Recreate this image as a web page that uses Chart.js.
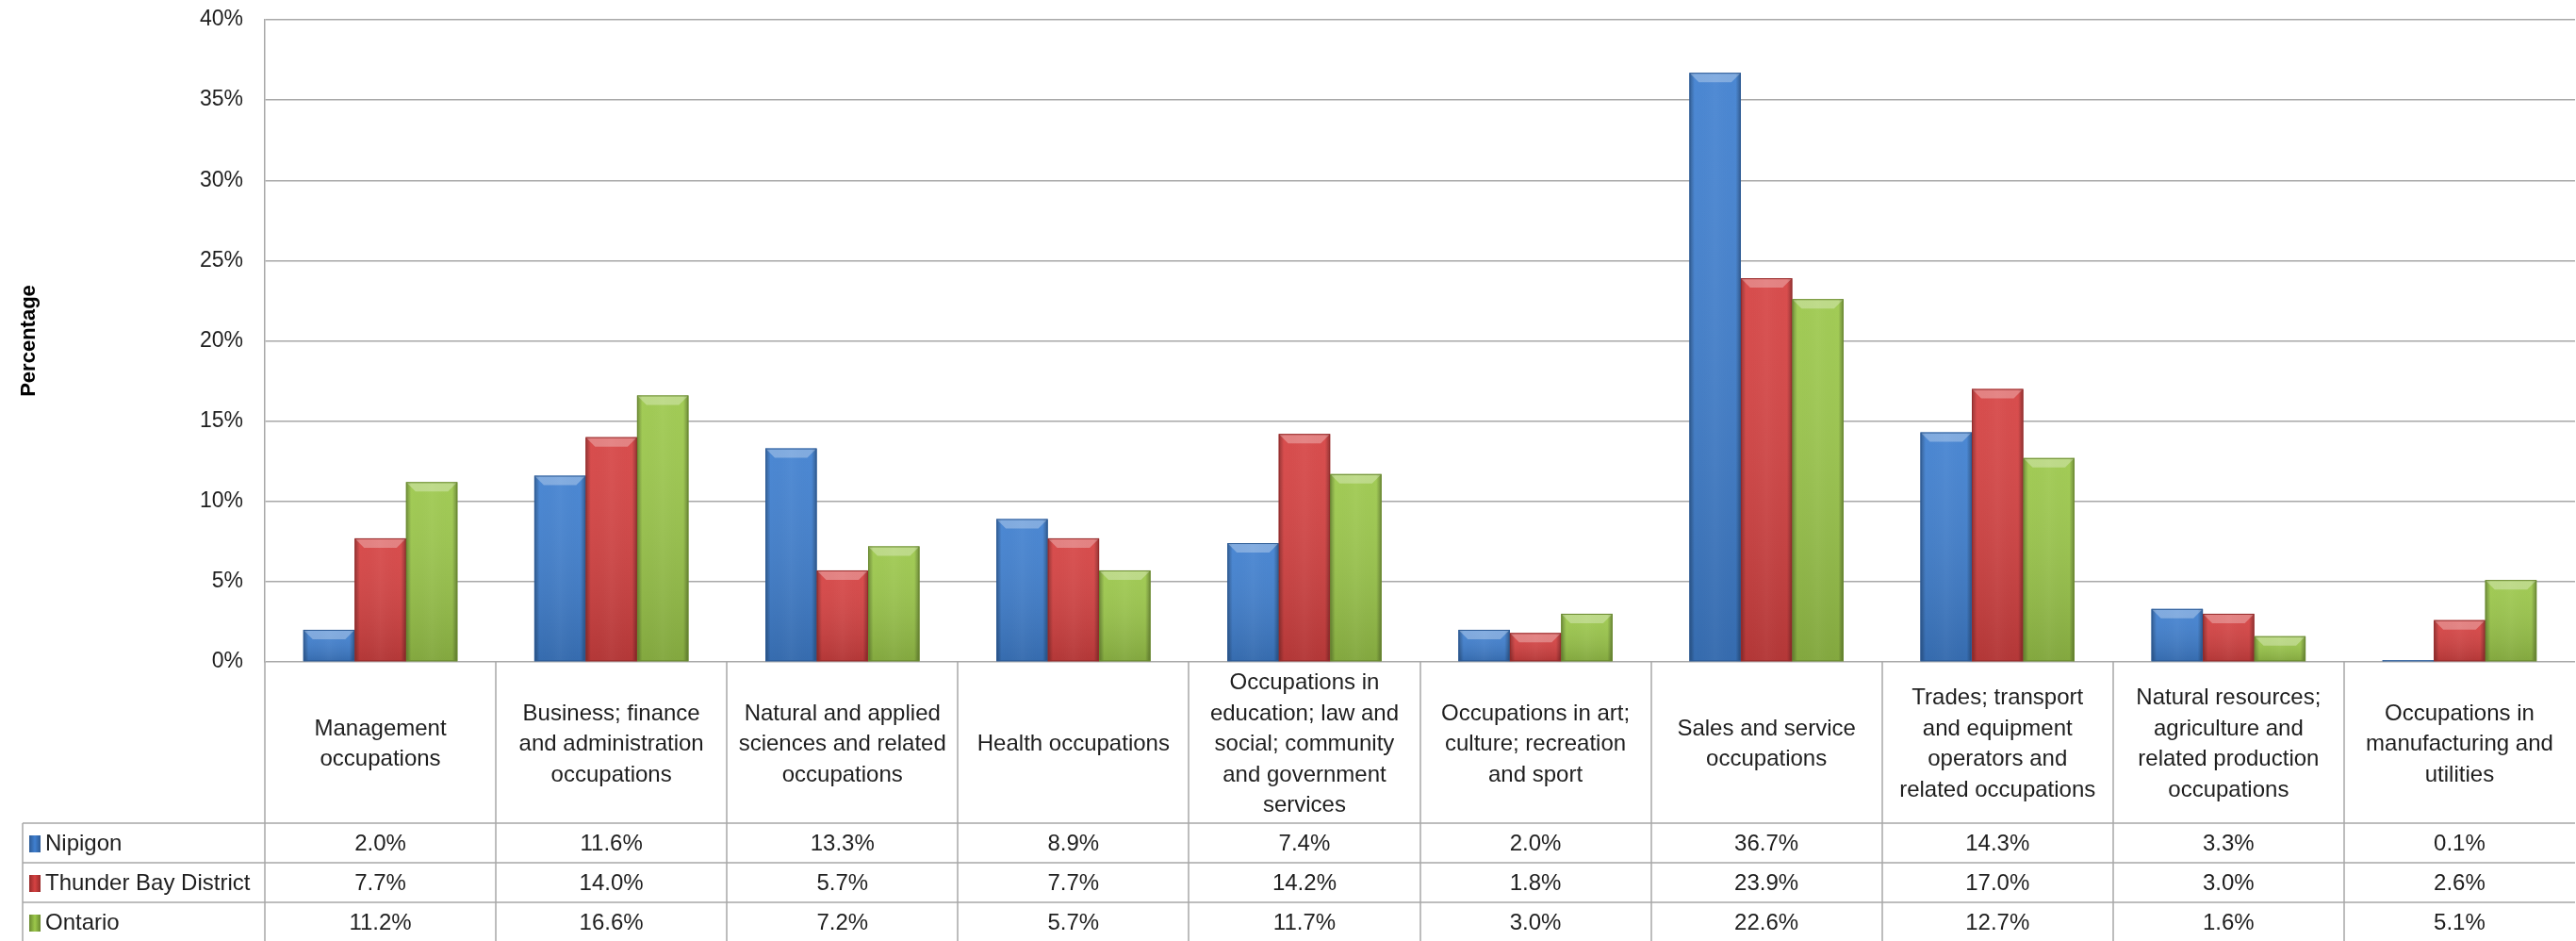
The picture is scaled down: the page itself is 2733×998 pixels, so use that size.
<!DOCTYPE html>
<html lang="en">
<head>
  <meta charset="UTF-8">
  <title>Occupations - Nipigon, Thunder Bay District, Ontario</title>
  <script src="https://cdn.jsdelivr.net/npm/chart.js"></script>
  <style>
    html, body { margin: 0; padding: 0; background: #ffffff; }
    #wrap { width: 2733px; height: 998px; }
  </style>
</head>
<body>
  <div id="wrap"><canvas id="occChart" width="2733" height="998"></canvas></div>
  <script>
    // chart data
    const categories = [
      ['Management', 'occupations'],
      ['Business; finance', 'and administration', 'occupations'],
      ['Natural and applied', 'sciences and related', 'occupations'],
      ['Health occupations'],
      ['Occupations in', 'education; law and', 'social; community', 'and government', 'services'],
      ['Occupations in art;', 'culture; recreation', 'and sport'],
      ['Sales and service', 'occupations'],
      ['Trades; transport', 'and equipment', 'operators and', 'related occupations'],
      ['Natural resources;', 'agriculture and', 'related production', 'occupations'],
      ['Occupations in', 'manufacturing and', 'utilities']
    ];
    const seriesNames = ['Nipigon', 'Thunder Bay District', 'Ontario'];
    const nipigon    = [2.0, 11.6, 13.3, 8.9, 7.4, 2.0, 36.7, 14.3, 3.3, 0.1];
    const thunderBay = [7.7, 14.0, 5.7, 7.7, 14.2, 1.8, 23.9, 17.0, 3.0, 2.6];
    const ontario    = [11.2, 16.6, 7.2, 5.7, 11.7, 3.0, 22.6, 12.7, 1.6, 5.1];
    const yMin = 0, yMax = 40, yStep = 5;
    const yTitle = 'Percentage';

    const FONT = "'Liberation Sans', Arial, sans-serif";
    const GRID = '#a8a8a8';
    const TEXT = '#1e1e1e';
    const fills = ['#4080d0', '#d64242', '#9cc84b'];
    const edges = ['#2d5b96', '#962b2b', '#6a8a30'];

    Chart.defaults.font.family = FONT;

    // bevel look on each bar, drawn over the elements the library laid out
    const bevelPlugin = {
      id: 'bevel',
      afterDatasetsDraw(chart) {
        const ctx = chart.ctx;
        ctx.save();
        chart.data.datasets.forEach((ds, di) => {
          chart.getDatasetMeta(di).data.forEach(el => {
            const w = el.width, l = el.x - w / 2, r = el.x + w / 2;
            const top = el.y, bot = el.base, h = bot - top;
            if (h <= 0.5) return;
            let g = ctx.createLinearGradient(0, top, 0, bot);
            g.addColorStop(0, 'rgba(255,255,255,0.06)');
            g.addColorStop(1, 'rgba(0,0,0,0.16)');
            ctx.fillStyle = g;
            ctx.fillRect(l, top, w, h);
            g = ctx.createLinearGradient(l, 0, r, 0);
            g.addColorStop(0, 'rgba(0,0,0,0.3)');
            g.addColorStop(0.1, 'rgba(0,0,0,0)');
            g.addColorStop(0.5, 'rgba(255,255,255,0.03)');
            g.addColorStop(0.9, 'rgba(0,0,0,0)');
            g.addColorStop(1, 'rgba(0,0,0,0.32)');
            ctx.fillStyle = g;
            ctx.fillRect(l, top, w, h);
            const b = Math.min(10, h);
            ctx.beginPath();
            ctx.moveTo(l, top);
            ctx.lineTo(r, top);
            ctx.lineTo(r - b, top + b);
            ctx.lineTo(l + b, top + b);
            ctx.closePath();
            ctx.fillStyle = 'rgba(255,255,255,0.3)';
            ctx.fill();
            ctx.strokeStyle = edges[di];
            ctx.lineWidth = 1;
            ctx.strokeRect(l + 0.5, top + 0.5, w - 1, h - 1);
          });
        });
        ctx.restore();
      }
    };

    // data table under the plot
    const tablePlugin = {
      id: 'dataTable',
      afterDraw(chart) {
        const ctx = chart.ctx;
        const x = chart.scales.x;
        const area = chart.chartArea;
        const top = area.bottom;
        const labelH = 171, rowH = 42;
        const legendLeft = 24;
        const bottom = top + labelH + rowH * seriesNames.length;
        ctx.save();
        ctx.strokeStyle = GRID;
        ctx.lineWidth = 1.5;
        ctx.beginPath();
        for (let i = 0; i < categories.length; i++) {
          const px = Math.round(x.getPixelForValue(i - 0.5));
          ctx.moveTo(px, top);
          ctx.lineTo(px, bottom);
        }
        for (let r = 0; r <= seriesNames.length; r++) {
          const py = top + labelH + rowH * r;
          ctx.moveTo(legendLeft, py);
          ctx.lineTo(area.right, py);
        }
        ctx.moveTo(legendLeft, top + labelH);
        ctx.lineTo(legendLeft, bottom);
        ctx.stroke();

        ctx.fillStyle = TEXT;
        ctx.textAlign = 'center';
        ctx.textBaseline = 'middle';
        ctx.font = '24px ' + FONT;
        const lineH = 32.5;
        categories.forEach((lines, i) => {
          const cx = x.getPixelForValue(i);
          const y0 = top + labelH / 2 + 2 - (lines.length - 1) * lineH / 2;
          lines.forEach((t, k) => ctx.fillText(t, cx, y0 + k * lineH));
        });

        chart.data.datasets.forEach((ds, di) => {
          const cy = top + labelH + rowH * di + rowH / 2 + 1;
          ctx.textAlign = 'center';
          ctx.fillStyle = TEXT;
          ds.data.forEach((v, i) => {
            ctx.fillText(v.toFixed(1) + '%', x.getPixelForValue(i), cy);
          });
          const g = ctx.createLinearGradient(31, 0, 43, 0);
          g.addColorStop(0, edges[di]);
          g.addColorStop(0.5, fills[di]);
          g.addColorStop(1, edges[di]);
          ctx.fillStyle = g;
          ctx.fillRect(31, cy - 9, 12, 18);
          ctx.fillStyle = TEXT;
          ctx.textAlign = 'left';
          ctx.fillText(ds.label, 48, cy);
        });
        ctx.restore();
      }
    };

    const ctx = document.getElementById('occChart').getContext('2d');
    new Chart(ctx, {
      type: 'bar',
      data: {
        labels: categories.map(c => c.join(' ')),
        datasets: [nipigon, thunderBay, ontario].map((vals, i) => ({
          label: seriesNames[i],
          data: vals,
          backgroundColor: fills[i],
          borderWidth: 0,
          barPercentage: 1,
          categoryPercentage: 0.667
        }))
      },
      options: {
        responsive: false,
        animation: false,
        layout: { padding: { top: 21, bottom: 296, left: 0, right: 1 } },
        plugins: { legend: { display: false }, tooltip: { enabled: false } },
        scales: {
          x: { display: false },
          y: {
            min: yMin,
            max: yMax,
            afterFit(scale) { scale.width = 281; },
            ticks: {
              stepSize: yStep,
              padding: 0,
              color: TEXT,
              font: { size: 23 },
              callback: v => v + '%'
            },
            grid: { color: GRID, lineWidth: 1.5, drawTicks: true, tickLength: 23, tickColor: 'rgba(0,0,0,0)' },
            border: { display: true, color: GRID, width: 1.5 },
            title: {
              display: true,
              text: yTitle,
              color: '#000000',
              font: { size: 22, weight: 'bold' },
              padding: { top: 18, bottom: 0 }
            }
          }
        }
      },
      plugins: [bevelPlugin, tablePlugin]
    });
  </script>
</body>
</html>
